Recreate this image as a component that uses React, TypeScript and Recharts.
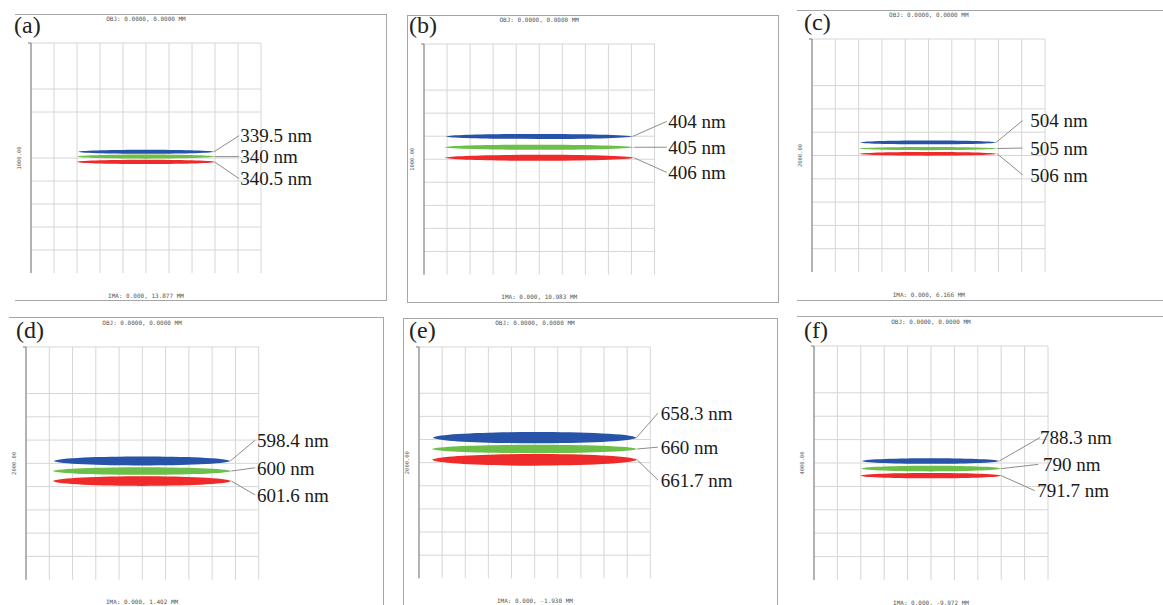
import React from "react";
import {
  ComposedChart,
  CartesianGrid,
  XAxis,
  YAxis,
  ReferenceArea,
  ReferenceLine,
  ReferenceDot,
} from "recharts";

// spot diagram values, one row per panel, columns = short / centre / long wavelength
const panelTags = ["(a)", "(b)", "(c)", "(d)", "(e)", "(f)"];
const waveLabels = [
  ["339.5 nm", "340 nm", "340.5 nm"],
  ["404 nm", "405 nm", "406 nm"],
  ["504 nm", "505 nm", "506 nm"],
  ["598.4 nm", "600 nm", "601.6 nm"],
  ["658.3 nm", "660 nm", "661.7 nm"],
  ["788.3 nm", "790 nm", "791.7 nm"],
];
const scaleBars = ["1000.00", "1000.00", "2000.00", "2000.00", "2000.00", "4000.00"];
const objLabels = [
  "OBJ: 0.0000, 0.0000 MM",
  "OBJ: 0.0000, 0.0000 MM",
  "OBJ: 0.0000, 0.0000 MM",
  "OBJ: 0.0000, 0.0000 MM",
  "OBJ: 0.0000, 0.0000 MM",
  "OBJ: 0.0000, 0.0000 MM",
];
const imaLabels = [
  "IMA: 0.000, 13.877 MM",
  "IMA: 0.000, 10.983 MM",
  "IMA: 0.000, 6.166 MM",
  "IMA: 0.000, 1.402 MM",
  "IMA: 0.000, -1.930 MM",
  "IMA: 0.000, -9.972 MM",
];
const spotCenterY = [
  [0.27, 0.06, -0.17],
  [0.99, 0.52, 0.06],
  [0.56, 0.3, 0.07],
  [0.1, -0.33, -0.76],
  [1.08, 0.59, 0.12],
  [0.085, -0.24, -0.54],
];
const spotLeft = [
  [-2.95, -3.0, -3.0],
  [-4.05, -4.1, -4.1],
  [-2.93, -3.0, -3.0],
  [-3.81, -3.85, -3.85],
  [-4.4, -4.44, -4.44],
  [-2.96, -3.0, -3.02],
];
const spotRight = [
  [2.95, 2.98, 2.98],
  [4.05, 4.12, 4.12],
  [2.9, 2.95, 2.95],
  [3.78, 3.82, 3.82],
  [4.4, 4.43, 4.43],
  [2.92, 3.0, 3.0],
];
const spotHalfHeight = [
  [0.09, 0.09, 0.09],
  [0.11, 0.11, 0.13],
  [0.08, 0.07, 0.08],
  [0.19, 0.165, 0.21],
  [0.24, 0.18, 0.25],
  [0.12, 0.12, 0.11],
];
const labelX = [
  [4.1, 4.1, 4.1],
  [5.6, 5.6, 5.6],
  [4.37, 4.37, 4.37],
  [4.93, 4.93, 4.93],
  [5.45, 5.45, 5.45],
  [4.66, 4.79, 4.54],
];
const leaderEndX = [
  [4.05, 4.05, 4.05],
  [5.53, 5.53, 5.53],
  [4.04, 4.04, 4.04],
  [4.85, 4.85, 4.85],
  [5.33, 5.33, 5.33],
  [4.66, 4.58, 4.43],
];
const labelY = [
  [0.97, 0.06, -0.9],
  [1.64, 0.52, -0.57],
  [1.5, 0.32, -0.83],
  [1.0, -0.19, -1.36],
  [2.14, 0.67, -0.75],
  [1.09, -0.06, -1.18],
];
const gridTicks = [-5, -4, -3, -2, -1, 0, 1, 2, 3, 4, 5];

const spotColors = ["#2753a8", "#6cbf48", "#ee2a2a"];

// page placement of each panel: grid box, outer frame and tag
const layout = [
  { gx: 31, gy: 43.3, gs: 230, tx: 14, ty: 18, frame: { l: 15, t: 14, r: 387, b: 301 }, left: false },
  { gx: 424, gy: 43.5, gs: 230.5, tx: 409, ty: 18, frame: { l: 407, t: 15, r: 779, b: 303 }, left: true },
  { gx: 812.3, gy: 39.3, gs: 233, tx: 804, ty: 15, frame: { l: 797, t: 10, r: 1175, b: 301 }, left: false },
  { gx: 25.7, gy: 346.7, gs: 232.7, tx: 16, ty: 323, frame: { l: 9, t: 317, r: 384, b: 620 }, left: false },
  { gx: 419.3, gy: 346.7, gs: 231.3, tx: 409, ty: 323, frame: { l: 403, t: 318, r: 778, b: 620 }, left: true },
  { gx: 814, gy: 345.7, gs: 234, tx: 804, ty: 323, frame: { l: 797, t: 316, r: 1175, b: 620 }, left: false },
];

const frameColor = "#a6a6a6";
const tinyFont = "'DejaVu Sans Mono', monospace";

// flat-topped lens with blunt ends, like a ray-traced spot
function spotPath(x: number, y: number, w: number, h: number) {
  const cy = y + h / 2;
  const k = (Math.max(h, 3) / 2) / 0.75;
  const l = x;
  const r = x + w;
  const c1 = l + w * 0.05;
  const c2 = r - w * 0.05;
  return `M${l},${cy} C${c1},${cy - k} ${c2},${cy - k} ${r},${cy} C${c2},${cy + k} ${c1},${cy + k} ${l},${cy} Z`;
}

function SpotPanel({ i }: { i: number }) {
  const L = layout[i];
  const yAxisW = 20;
  const pad = 6;
  const rightRoom = 170;
  const spots = [0, 1, 2].map((k) => ({
    x: (spotLeft[i][k] + spotRight[i][k]) / 2,
    y: spotCenterY[i][k],
    x1: spotLeft[i][k],
    x2: spotRight[i][k],
    y1: spotCenterY[i][k] - spotHalfHeight[i][k],
    y2: spotCenterY[i][k] + spotHalfHeight[i][k],
    lx: labelX[i][k],
    ex: leaderEndX[i][k],
    ly: labelY[i][k],
    text: waveLabels[i][k],
    color: spotColors[k],
  }));
  const f = L.frame;
  const cx = L.gx + L.gs / 2;

  return (
    <>
      <div
        style={{
          position: "absolute",
          left: f.l,
          top: f.t,
          width: f.r - f.l,
          height: f.b - f.t,
          borderTop: `1.5px solid ${frameColor}`,
          borderRight: `1.5px solid ${frameColor}`,
          borderBottom: `1.5px solid ${frameColor}`,
          borderLeft: L.left ? `1.5px solid ${frameColor}` : "none",
          boxSizing: "border-box",
        }}
      />
      <div
        style={{
          position: "absolute",
          left: L.tx,
          top: L.ty - 5,
          fontFamily: "'Liberation Serif', serif",
          fontSize: 24,
          lineHeight: "24px",
          color: "#222",
        }}
      >
        {panelTags[i]}
      </div>
      <div
        style={{
          position: "absolute",
          left: cx - 60,
          width: 120,
          top: L.gy - 28,
          textAlign: "center",
          fontFamily: tinyFont,
          fontSize: 6,
          lineHeight: "8px",
          color: "#555",
        }}
      >
        {objLabels[i]}
      </div>
      <div
        style={{
          position: "absolute",
          left: cx - 60,
          width: 120,
          top: L.gy + L.gs + 19,
          textAlign: "center",
          fontFamily: tinyFont,
          fontSize: 6,
          lineHeight: "8px",
          color: "#555",
        }}
      >
        {imaLabels[i]}
      </div>
      <div style={{ position: "absolute", left: L.gx - yAxisW, top: L.gy - pad }}>
        <ComposedChart
          width={yAxisW + L.gs + rightRoom}
          height={L.gs + 2 * pad}
          data={spots}
          margin={{ top: pad, bottom: pad, left: 0, right: rightRoom }}
        >
          <CartesianGrid
            stroke="#d6d6d6"
            strokeWidth={1}
            horizontalValues={gridTicks}
            verticalValues={gridTicks}
          />
          <XAxis type="number" dataKey="x" domain={[-5, 5]} allowDataOverflow hide />
          <YAxis
            type="number"
            dataKey="y"
            domain={[-5, 5]}
            allowDataOverflow
            ticks={[-5, 5]}
            width={yAxisW}
            tick={() => <g />}
            tickSize={3}
            stroke="#7a7a7a"
            label={{
              content: (p: any) => {
                const vb = p.viewBox || {};
                const lx = vb.x + vb.width - 12;
                const ly = vb.y + vb.height / 2;
                return (
                  <text
                    x={lx}
                    y={ly}
                    transform={`rotate(-90, ${lx}, ${ly})`}
                    textAnchor="middle"
                    dominantBaseline="central"
                    fontFamily={tinyFont}
                    fontSize={5.5}
                    fill="#555"
                  >
                    {scaleBars[i]}
                  </text>
                );
              },
            }}
          />
          {spots.map((s, k) => (
            <ReferenceArea
              key={`spot-${k}`}
              x1={s.x1}
              x2={s.x2}
              y1={s.y1}
              y2={s.y2}
              ifOverflow="visible"
              shape={(p: any) => (
                <path d={spotPath(p.x, p.y, p.width, p.height)} fill={s.color} />
              )}
            />
          ))}
          {spots.map((s, k) => (
            <ReferenceLine
              key={`lead-${k}`}
              segment={[
                { x: s.x2, y: s.y },
                { x: s.ex, y: s.ly },
              ]}
              stroke="#8c8c8c"
              strokeWidth={1}
              ifOverflow="visible"
            />
          ))}
          {spots.map((s, k) => (
            <ReferenceDot
              key={`lab-${k}`}
              x={s.lx}
              y={s.ly}
              r={0}
              stroke="none"
              fill="none"
              ifOverflow="visible"
              label={{
                value: s.text,
                position: "right",
                offset: 0,
                fill: "#1a1a1a",
                fontSize: 19,
                fontFamily: "'Liberation Serif', serif",
              }}
            />
          ))}
        </ComposedChart>
      </div>
    </>
  );
}

export default function App() {
  return (
    <div
      style={{
        position: "fixed",
        left: 0,
        top: 0,
        width: 1163,
        height: 605,
        background: "#ffffff",
        overflow: "hidden",
      }}
    >
      {panelTags.map((_, i) => (
        <SpotPanel key={i} i={i} />
      ))}
    </div>
  );
}
